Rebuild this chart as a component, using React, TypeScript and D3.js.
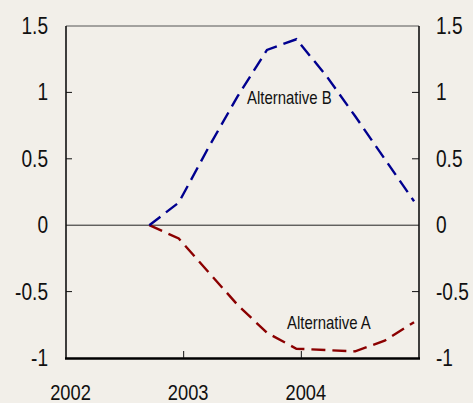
import React from "react";
import * as d3 from "d3";

const quarters = [2002.708, 2002.958, 2003.208, 2003.458, 2003.708, 2003.958, 2004.208, 2004.458, 2004.708, 2004.958];
const altB = [0, 0.17, 0.58, 0.97, 1.32, 1.4, 1.13, 0.82, 0.5, 0.18];
const altA = [0, -0.1, -0.35, -0.6, -0.81, -0.93, -0.94, -0.95, -0.87, -0.73];
const yTicks = [-1, -0.5, 0, 0.5, 1, 1.5];
const yTickLabels = ["-1", "-0.5", "0", "0.5", "1", "1.5"];
const xTicks = [2002, 2003, 2004];
const xTickLabels = ["2002", "2003", "2004"];
const seriesLabels = ["Alternative A", "Alternative B"];

const W = 473, H = 403;
const L = 66, R = 419, T = 26, B = 358;
const BG = "#f2efe9";
const FONT = "'Liberation Sans', Arial, sans-serif";
const SX = 0.83;

export default function App() {
  const x = d3.scaleLinear().domain([2002, 2005]).range([L, R]);
  const y = d3.scaleLinear().domain([-1, 1.5]).range([B, T]);
  const line = d3.line<number>().x((_, i) => x(quarters[i])).y((d) => y(d));

  const txt = (s: string, tx: number, ty: number, size: number, anchor: string, key: string) => (
    <text
      key={key}
      transform={`translate(${tx},${ty}) scale(${SX},1)`}
      fontSize={size}
      fontFamily={FONT}
      textAnchor={anchor}
      fill="#111"
    >
      {s}
    </text>
  );

  return (
    <div style={{ position: "fixed", left: 0, top: 0 }}>
      <svg width={W} height={H} style={{ display: "block" }}>
        <rect x={0} y={0} width={W} height={H} fill={BG} />
        {/* zero line */}
        <line x1={L} x2={R} y1={y(0)} y2={y(0)} stroke="#222" strokeWidth={1} />
        {/* frame */}
        <line x1={L} x2={R} y1={T} y2={T} stroke="#555" strokeWidth={1} />
        <line x1={L} x2={L} y1={T} y2={B} stroke="#111" strokeWidth={1.6} />
        <line x1={R} x2={R} y1={T} y2={B} stroke="#111" strokeWidth={1.6} />
        <line x1={L - 1} x2={R + 1} y1={B + 0.5} y2={B + 0.5} stroke="#000" strokeWidth={2.6} />
        {/* y ticks */}
        {yTicks.map((t, i) => (
          <g key={"yt" + i}>
            {t > -1 && t < 1.5 && t !== 0 ? (
              <>
                <line x1={L} x2={L + 6} y1={y(t)} y2={y(t)} stroke="#111" strokeWidth={1} />
                <line x1={R - 7} x2={R} y1={y(t)} y2={y(t)} stroke="#111" strokeWidth={1} />
              </>
            ) : null}
            {txt(yTickLabels[i], 48, y(t) + 8, 23, "end", "yl" + i)}
            {txt(yTickLabels[i], 436, y(t) + 8, 23, "start", "yr" + i)}
          </g>
        ))}
        {/* x ticks */}
        {xTicks.map((t, i) => (
          <g key={"xt" + i}>
            {t > 2002 ? (
              <line x1={x(t)} x2={x(t)} y1={B} y2={B - 7} stroke="#111" strokeWidth={1} />
            ) : null}
            {txt(xTickLabels[i], x(t) + 4.5, 400, 22, "middle", "xl" + i)}
          </g>
        ))}
        {/* series */}
        <path d={line(altA) || ""} fill="none" stroke="#8b0000" strokeWidth={2.4} strokeDasharray="14,7" />
        <path d={line(altB) || ""} fill="none" stroke="#00008f" strokeWidth={2.4} strokeDasharray="14,7" />
        {txt(seriesLabels[1], 247, 104, 18, "start", "lb")}
        {txt(seriesLabels[0], 287, 329, 18, "start", "la")}
      </svg>
    </div>
  );
}
